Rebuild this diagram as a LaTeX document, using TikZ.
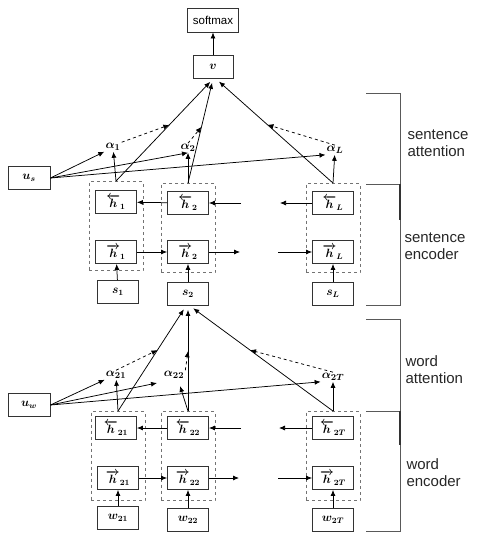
\documentclass[tikz,border=0pt]{standalone}
\usepackage{amsmath}
\usepackage{amssymb}
\usepackage{fontspec}
\setmainfont{Liberation Sans}
\usepackage{tikz}
\usetikzlibrary{calc}
\usetikzlibrary{arrows.meta}

\begin{document}
\begin{tikzpicture}[x=1pt, y=-1pt,
		box/.style={draw=black!80, line width=0.9pt, minimum width=41pt, minimum height=23pt, inner sep=0pt, font=\boldmath\fontsize{11.5}{13}\selectfont},
		col/.style={draw=black!55, dashed, line width=0.9pt, minimum width=54pt, minimum height=89pt, inner sep=0pt},
		lbl/.style={inner sep=1pt, font=\boldmath\fontsize{12.5}{14}\selectfont},
		side/.style={align=left, anchor=west, text=black!85, font=\fontsize{15}{17}\selectfont},
		arr/.style={draw, line width=0.75pt, -{Latex[length=6pt, width=5pt]}},
		dsh/.style={arr, dashed},
		bracket/.style={draw=black!65, line width=0.8pt}]
		\useasboundingbox (0, 0) rectangle (479, 551);

		% sentence level
		\node[box, minimum width=51pt, minimum height=24pt, font=\fontsize{11.5}{13}\selectfont] (soft) at (213, 20) {softmax};
		\node[box, minimum width=40pt] (v) at (213, 67) {$v$};
		\node[box, minimum width=42pt] (us) at (29, 178) {$u_s$};

		\node[col] (c1) at (116, 226) {};
		\node[col] (c2) at (188, 228) {};
		\node[col] (cL) at (333, 228) {};

		\node[box] (hb1) at (116, 202) {$\overleftarrow{h}_{1}$};
		\node[box] (hf1) at (116, 252) {$\overrightarrow{h}_{1}$};
		\node[box] (hb2) at (188, 203) {$\overleftarrow{h}_{2}$};
		\node[box] (hf2) at (188, 252) {$\overrightarrow{h}_{2}$};
		\node[box] (hbL) at (333, 203) {$\overleftarrow{h}_{L}$};
		\node[box] (hfL) at (333, 252) {$\overrightarrow{h}_{L}$};

		\node[box] (s1) at (118, 292) {$s_1$};
		\node[box] (s2) at (188, 294) {$s_2$};
		\node[box] (sL) at (333, 294) {$s_L$};

		\node[lbl] (a1) at (113, 147) {$\alpha_1$};
		\node[lbl] (a2) at (188, 148) {$\alpha_2$};
		\node[lbl] (aL) at (335, 150) {$\alpha_L$};

		\coordinate (bl1) at (241, 203);
		\coordinate (br1) at (280, 203);
		\coordinate (fl1) at (240, 252);
		\coordinate (fr1) at (278, 252);

		\path[arr] (v) -- (soft);
		\path[arr] (s1) -- (hf1);
		\path[arr] (s2) -- (hf2);
		\path[arr] (sL) -- (hfL);
		\path[arr] (hf1) -- (hf2);
		\path[arr] (hf2) -- (fl1);
		\path[arr] (fr1) -- (hfL);
		\path[arr] (hb2) -- (hb1);
		\path[arr] (bl1) -- (hb2);
		\path[arr] (hbL) -- (br1);

		\path[arr] (c1.north) -- (a1);
		\path[arr] (c2.north) -- (a2);
		\path[arr] (cL.north) -- (aL);
		\path[arr] (us.east) -- (a1.south west);
		\path[arr] (us.east) -- (a2.south);
		\path[arr] (us.east) -- (aL.south west);

		\path[arr, shorten >=4pt] (c1.north) -- (v.south) coordinate[pos=0.55] (m1);
		\path[arr, shorten >=4pt] (c2.north) -- (v.south) coordinate[pos=0.54] (m2);
		\path[arr, shorten >=4pt] (cL.north) -- ([xshift=3pt]v.south) coordinate[pos=0.56] (mL);
		\path[dsh] (a1.north east) -- (m1);
		\path[dsh] (a2.north) -- (m2);
		\path[dsh] (aL.north) -- (mL);

		% word level
		\node[box, minimum width=42pt] (uw) at (29, 405) {$u_w$};

		\node[col] (c21) at (118, 456) {};
		\node[col] (c22) at (188, 456) {};
		\node[col] (c2T) at (333, 456) {};

		\node[box] (hb21) at (116, 428) {$\overleftarrow{h}_{21}$};
		\node[box] (hf21) at (118, 478) {$\overrightarrow{h}_{21}$};
		\node[box] (hb22) at (188, 428) {$\overleftarrow{h}_{22}$};
		\node[box] (hf22) at (188, 478) {$\overrightarrow{h}_{22}$};
		\node[box] (hb2T) at (333, 428) {$\overleftarrow{h}_{2T}$};
		\node[box] (hf2T) at (333, 478) {$\overrightarrow{h}_{2T}$};

		\node[box] (w21) at (118, 518) {$w_{21}$};
		\node[box] (w22) at (188, 520) {$w_{22}$};
		\node[box] (w2T) at (333, 520) {$w_{2T}$};

		\node[lbl] (a21) at (116, 375) {$\alpha_{21}$};
		\node[lbl] (a22) at (174, 375) {$\alpha_{22}$};
		\node[lbl] (a2T) at (333, 377) {$\alpha_{2T}$};

		\coordinate (bl2) at (241, 428);
		\coordinate (br2) at (279, 428);
		\coordinate (fl2) at (239, 478);
		\coordinate (fr2) at (278, 478);
		\coordinate (p22) at (180, 386);
		\coordinate (q22) at (157, 383);

		\path[arr] (w21) -- (hf21);
		\path[arr] (w22) -- (hf22);
		\path[arr] (w2T) -- (hf2T);
		\path[arr] (hf21) -- (hf22);
		\path[arr] (hf22) -- (fl2);
		\path[arr] (fr2) -- (hf2T);
		\path[arr] (hb22) -- (hb21);
		\path[arr] (bl2) -- (hb22);
		\path[arr] (hb2T) -- (br2);

		\path[arr] (c21.north) -- (a21);
		\path[arr] (c22.north) -- (p22);
		\path[arr] (c2T.north) -- (a2T);
		\path[arr] (uw.east) -- (a21.south west);
		\path[arr] (uw.east) -- (q22);
		\path[arr] (uw.east) -- (a2T.south west);

		\path[arr, shorten >=4pt] (c21.north) -- ([xshift=-2pt]s2.south) coordinate[pos=0.58] (n1);
		\path[arr, shorten >=4pt] (c22.north) -- (s2.south) coordinate[pos=0.57] (n2);
		\path[arr, shorten >=4pt] (c2T.north) -- ([xshift=2pt]s2.south) coordinate[pos=0.58] (nT);
		\path[dsh] (a21.north) -- (n1);
		\path[dsh] (a22.north east) -- (n2);
		\path[dsh] (a2T.north) -- (nT);

		% brackets
		\path[bracket] (366, 93) -- (400, 93) -- (400, 305) -- (366, 305);
		\path[bracket] (366, 184) -- (400, 184);
		\path[bracket, line width=1.4pt, draw=black!80] (400, 184) -- (400, 220);
		\path[bracket] (366, 319) -- (400, 319) -- (400, 531) -- (366, 531);
		\path[bracket] (366, 411) -- (400, 411);
		\path[bracket, line width=1.4pt, draw=black!80] (400, 411) -- (400, 445);

		\node[side] (sa) at (404, 143) {sentence\\attention};
		\node[side] (se) at (401, 246) {sentence\\encoder};
		\node[side] (wa) at (402, 370) {word\\attention};
		\node[side] (we) at (403, 473) {word\\encoder};
\end{tikzpicture}
\end{document}
